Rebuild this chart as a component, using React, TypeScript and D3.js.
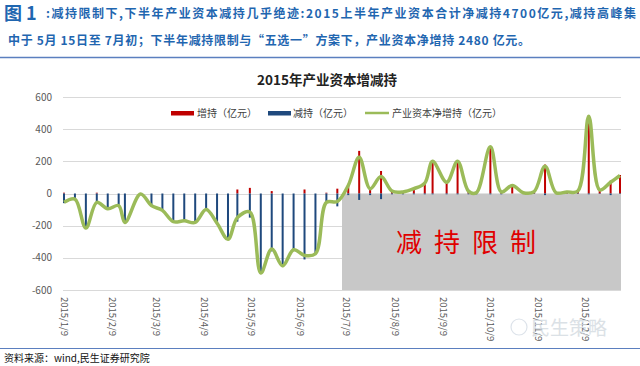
import * as d3 from "d3";
import { useEffect, useRef } from "react";

// weekly trading-week end dates, 2015
const dates = [
  "2015/1/9", "2015/1/16", "2015/1/23", "2015/1/30",
  "2015/2/6", "2015/2/13", "2015/2/17", "2015/2/27",
  "2015/3/6", "2015/3/13", "2015/3/20", "2015/3/27",
  "2015/4/3", "2015/4/10", "2015/4/17", "2015/4/24", "2015/4/30",
  "2015/5/8", "2015/5/15", "2015/5/22", "2015/5/29",
  "2015/6/5", "2015/6/12", "2015/6/19", "2015/6/26",
  "2015/7/3", "2015/7/10", "2015/7/17", "2015/7/24", "2015/7/31",
  "2015/8/7", "2015/8/14", "2015/8/21", "2015/8/28",
  "2015/9/2", "2015/9/11", "2015/9/18", "2015/9/25", "2015/9/30",
  "2015/10/9", "2015/10/16", "2015/10/23", "2015/10/30",
  "2015/11/6", "2015/11/13", "2015/11/20", "2015/11/27",
  "2015/12/4", "2015/12/11", "2015/12/18", "2015/12/25", "2015/12/31",
];

// 增持（亿元）
const increase = [
  5, 0, 0, 5, 0, 0, 0, 0, 0, 0, 0, 0, 0, 0, 0, 0, 25,
  35, 0, 15, 0, 0, 25, 0, 5,
  30, 60, 265, 40, 140, 20, 15, 35, 70,
  205, 75, 205, 20, 10, 295, 15, 50, 8,
  15, 180, 8, 12, 18, 485, 25, 80, 115,
];

// 减持（亿元）
const decrease = [
  -60, -35, -215, -60, -95, -75, -180, -3, -75, -105, -175, -170, -180, -100, -185, -285, -175,
  -150, -495, -360, -450, -350, -410, -375, -60,
  -80, -10, -40, -10, -35, -5, -5, -5, -5,
  -5, -5, -5, -5, -5, -5, -5, 0, -3,
  -3, -10, -3, -2, -3, -5, -3, -10, -3,
];

// 产业资本净增持（亿元）
const net = [
  -55, -35, -215, -55, -95, -75, -180, -3, -75, -105, -175, -170, -180, -100, -185, -285, -150,
  -115, -495, -345, -450, -350, -385, -375, -55,
  -50, 50, 225, 30, 105, 15, 10, 30, 65,
  200, 70, 200, 15, 5, 290, 10, 50, 5,
  12, 170, 5, 10, 15, 480, 22, 70, 112,
];

const xTickLabels = [
  "2015/1/9", "2015/2/9", "2015/3/9", "2015/4/9", "2015/5/9", "2015/6/9",
  "2015/7/9", "2015/8/9", "2015/9/9", "2015/10/9", "2015/11/9", "2015/12/9",
];
const yTicks = [-600, -400, -200, 0, 200, 400, 600];
const restrictStart = "2015/7/6";
const xDomain = ["2015/1/9", "2015/12/31"];

const parse = d3.timeParse("%Y/%m/%d");
const FONT = "'Noto Sans CJK SC', 'Noto Sans', sans-serif";

const App = () => {
  const ref = useRef<SVGSVGElement>(null);

  useEffect(() => {
    const W = 640, H = 366;
    const svg = d3.select(ref.current);
    svg.selectAll("*").remove();

    svg.append("rect").attr("width", W).attr("height", H).attr("fill", "#fff");

    // header
    const blue = "#1f66b0";
    svg.append("text")
      .attr("x", 4).attr("y", 20)
      .style("font-family", FONT).style("font-size", "18px").style("font-weight", "bold")
      .attr("fill", blue).text("图 1");
    svg.append("text")
      .attr("x", 46).attr("y", 18)
      .attr("textLength", 590).attr("lengthAdjust", "spacing")
      .style("font-family", FONT).style("font-size", "12px").style("font-weight", "bold")
      .attr("fill", blue)
      .text(":减持限制下,下半年产业资本减持几乎绝迹:2015上半年产业资本合计净减持4700亿元,减持高峰集");
    svg.append("text")
      .attr("x", 8).attr("y", 45)
      .attr("textLength", 522).attr("lengthAdjust", "spacing")
      .style("font-family", FONT).style("font-size", "12px").style("font-weight", "bold")
      .attr("fill", blue)
      .text("中于 5月 15日至 7月初；下半年减持限制与“五选一”方案下，产业资本净增持 2480 亿元。");
    svg.append("line")
      .attr("x1", 0).attr("x2", W).attr("y1", 57.5).attr("y2", 57.5)
      .attr("stroke", "#5b7fbf").attr("stroke-width", 1.5);

    // title
    svg.append("text")
      .attr("x", 327).attr("y", 85)
      .attr("text-anchor", "middle")
      .style("font-family", FONT).style("font-size", "13.5px").style("font-weight", "bold")
      .attr("fill", "#222").text("2015年产业资本增减持");

    const x = d3.scaleTime()
      .domain(xDomain.map((d) => parse(d) as Date))
      .range([64, 620]);
    const y = d3.scaleLinear().domain([-600, 600]).range([290, 97]);

    // gridlines
    svg.append("g")
      .selectAll("line")
      .data(yTicks)
      .join("line")
      .attr("x1", 63).attr("x2", 621)
      .attr("y1", (d) => Math.round(y(d)) + 0.5)
      .attr("y2", (d) => Math.round(y(d)) + 0.5)
      .attr("stroke", "#d9d9d9");

    // y labels
    svg.append("g")
      .selectAll("text")
      .data(yTicks)
      .join("text")
      .attr("x", 52)
      .attr("y", (d) => y(d))
      .attr("dy", "0.35em")
      .attr("text-anchor", "end")
      .style("font-family", FONT).style("font-size", "10px")
      .attr("fill", "#595959")
      .text((d) => d);

    // restricted region
    const rx = x(parse(restrictStart) as Date);
    svg.append("rect")
      .attr("x", rx).attr("y", y(0))
      .attr("width", 621 - rx).attr("height", y(-600) - y(0))
      .attr("fill", "#c8c8c8");

    // bars
    const rows = dates.map((d, i) => ({
      date: parse(d) as Date,
      inc: increase[i],
      dec: decrease[i],
      net: net[i],
    }));
    const bw = 2;
    svg.append("g")
      .selectAll("rect")
      .data(rows)
      .join("rect")
      .attr("x", (d) => x(d.date) - bw / 2)
      .attr("y", (d) => y(d.inc))
      .attr("width", bw)
      .attr("height", (d) => y(0) - y(d.inc))
      .attr("fill", "#c00000");
    svg.append("g")
      .selectAll("rect")
      .data(rows)
      .join("rect")
      .attr("x", (d) => x(d.date) - bw / 2)
      .attr("y", y(0))
      .attr("width", bw)
      .attr("height", (d) => y(d.dec) - y(0))
      .attr("fill", "#1f497d");

    // net line
    const line = d3.line<(typeof rows)[number]>()
      .x((d) => x(d.date))
      .y((d) => y(d.net))
      .curve(d3.curveCatmullRom.alpha(0.5));
    svg.append("path")
      .datum(rows)
      .attr("d", line)
      .attr("fill", "none")
      .attr("stroke", "#9bbb59")
      .attr("stroke-width", 3.5)
      .attr("stroke-linejoin", "round");

    svg.append("text")
      .attr("x", 472).attr("y", 252)
      .attr("text-anchor", "middle")
      .style("font-family", FONT).style("font-size", "26px")
      .style("letter-spacing", "12px")
      .attr("fill", "#e00000")
      .text("减持限制");

    // x labels (rotated)
    svg.append("g")
      .selectAll("text")
      .data(xTickLabels)
      .join("text")
      .attr("transform", (d) => `translate(${x(parse(d) as Date)},297) rotate(90)`)
      .attr("dy", "0.35em")
      .style("font-family", FONT).style("font-size", "9.5px")
      .attr("fill", "#595959")
      .text((d) => d);

    // legend
    const lg = svg.append("g").style("font-family", FONT).style("font-size", "10px");
    lg.append("rect").attr("x", 171).attr("y", 111).attr("width", 23).attr("height", 4.5).attr("fill", "#c00000");
    lg.append("text").attr("x", 197).attr("y", 113).attr("dy", "0.35em").attr("fill", "#404040").text("增持（亿元）");
    lg.append("rect").attr("x", 268).attr("y", 111).attr("width", 23).attr("height", 4.5).attr("fill", "#1f497d");
    lg.append("text").attr("x", 293).attr("y", 113).attr("dy", "0.35em").attr("fill", "#404040").text("减持（亿元）");
    lg.append("line").attr("x1", 365).attr("x2", 389).attr("y1", 113).attr("y2", 113).attr("stroke", "#9bbb59").attr("stroke-width", 2.5);
    lg.append("text").attr("x", 392).attr("y", 113).attr("dy", "0.35em").attr("fill", "#404040").text("产业资本净增持（亿元）");

    // watermark
    svg.append("circle").attr("cx", 519).attr("cy", 327).attr("r", 8)
      .attr("fill", "none").attr("stroke", "#dde3ea").attr("stroke-width", 1.2);
    svg.append("text")
      .attr("x", 531).attr("y", 335)
      .style("font-family", FONT).style("font-size", "19px")
      .attr("fill", "#d3dae1").attr("opacity", 0.8)
      .text("民生策略");

    // footer
    svg.append("line")
      .attr("x1", 0).attr("x2", W).attr("y1", 348.5).attr("y2", 348.5)
      .attr("stroke", "#5b7fbf").attr("stroke-width", 1.2);
    svg.append("text")
      .attr("x", 4).attr("y", 362)
      .style("font-family", FONT).style("font-size", "10px")
      .attr("fill", "#111")
      .text("资料来源：wind,民生证券研究院");
  }, []);

  return (
    <svg
      ref={ref}
      width={640}
      height={366}
      style={{ position: "absolute", left: 0, top: 0 }}
    />
  );
};

export default App;
